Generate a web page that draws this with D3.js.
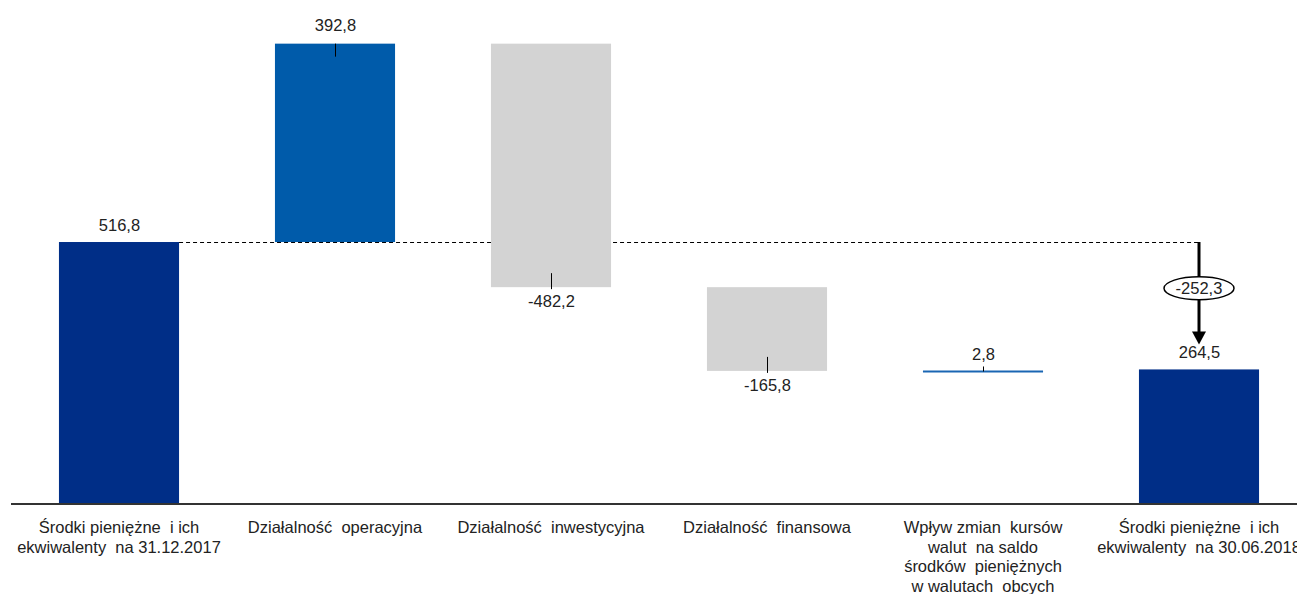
<!DOCTYPE html>
<html><head><meta charset="utf-8">
<script src="https://cdn.jsdelivr.net/npm/d3@7"></script>
<style>body{margin:0;background:#fff}svg{display:block}text{font-family:"Liberation Sans",Arial,sans-serif;fill:#222}</style>
</head><body>
<svg id="c" width="1297" height="594"></svg>
<script>
const categories = [
  ["Środki pieniężne  i ich", "ekwiwalenty  na 31.12.2017"],
  ["Działalność  operacyjna"],
  ["Działalność  inwestycyjna"],
  ["Działalność  finansowa"],
  ["Wpływ zmian  kursów", "walut  na saldo", "środków  pieniężnych", "w walutach  obcych"],
  ["Środki pieniężne  i ich", "ekwiwalenty  na 30.06.2018"]
];
const kinds = ["total", "delta", "delta", "delta", "delta", "total"];
const values = [516.8, 392.8, -482.2, -165.8, 2.8, 264.5];
const labels = ["516,8", "392,8", "-482,2", "-165,8", "2,8", "264,5"];
const diffLabel = "-252,3";

const FS = 16.5;
const svg = d3.select("#c");
const x = d3.scaleBand().domain(d3.range(values.length)).range([11, 1307]).paddingInner(0.444).paddingOuter(0.222);
const y = d3.scaleLinear().domain([0, 1000]).range([503, -2]);

let run = 0;
const segs = values.map((v, i) => {
  let a, b;
  if (kinds[i] === "total") { a = 0; b = v; run = v; }
  else { a = run; b = run + v; run = b; }
  return {i, v, a, b, lo: Math.min(a, b), hi: Math.max(a, b)};
});
const colors = ["#002E87", "#005BAA", "#D3D3D3", "#D3D3D3", "#1A66B3", "#002E87"];

// dashed reference line
const yd = Math.round(y(values[0])) + 0.5;
svg.append("line").attr("x1", x(0) + x.bandwidth()).attr("x2", x(5) + x.bandwidth() / 2)
  .attr("y1", yd).attr("y2", yd)
  .attr("stroke", "#000").attr("stroke-width", 1).attr("stroke-dasharray", "4,3");

segs.forEach(s => {
  const x0 = x(s.i), w = x.bandwidth(), cx = Math.round(x0 + w / 2) + 0.5;
  if (s.i === 4) {
    svg.append("line").attr("x1", x0).attr("x2", x0 + w).attr("y1", y(s.b) + 2).attr("y2", y(s.b) + 2)
      .attr("stroke", colors[s.i]).attr("stroke-width", 2);
    svg.append("line").attr("x1", cx).attr("x2", cx).attr("y1", y(s.b) - 3).attr("y2", y(s.b) + 2).attr("stroke", "#000");
    svg.append("text").attr("x", cx).attr("y", y(s.b) - 9).attr("text-anchor", "middle").attr("font-size", FS).text(labels[s.i]);
    return;
  }
  svg.append("rect").attr("x", x0).attr("width", w).attr("y", y(s.hi)).attr("height", y(s.lo) - y(s.hi)).attr("fill", colors[s.i]);
  if (kinds[s.i] === "total") {
    svg.append("text").attr("x", cx).attr("y", y(s.hi) - 11).attr("text-anchor", "middle").attr("font-size", FS).text(labels[s.i]);
  } else if (s.v > 0) {
    svg.append("line").attr("x1", cx).attr("x2", cx).attr("y1", y(s.hi)).attr("y2", y(s.hi) + 13).attr("stroke", "#000");
    svg.append("text").attr("x", cx).attr("y", y(s.hi) - 13).attr("text-anchor", "middle").attr("font-size", FS).text(labels[s.i]);
  } else {
    svg.append("line").attr("x1", cx).attr("x2", cx).attr("y1", y(s.lo) - 14).attr("y2", y(s.lo) + 2).attr("stroke", "#000");
    svg.append("text").attr("x", cx).attr("y", y(s.lo) + 20).attr("text-anchor", "middle").attr("font-size", FS).text(labels[s.i]);
  }
});

// arrow for difference
const ax = Math.round(x(5) + x.bandwidth() / 2);
const yTop = y(values[0]), yTip = y(values[5]) - 25;
svg.append("line").attr("x1", ax).attr("x2", ax).attr("y1", yTop).attr("y2", yTip - 10).attr("stroke", "#000").attr("stroke-width", 3);
svg.append("path").attr("d", `M${ax - 7},${yTip - 13} L${ax + 7},${yTip - 13} L${ax},${yTip} Z`).attr("fill", "#000");
const ey = (yTop + yTip) / 2 - 5;
svg.append("ellipse").attr("cx", ax).attr("cy", ey).attr("rx", 35).attr("ry", 11.5).attr("fill", "#fff").attr("stroke", "#000").attr("stroke-width", 1.5);
svg.append("text").attr("x", ax).attr("y", ey + 6).attr("text-anchor", "middle").attr("font-size", FS).text(diffLabel);

// axis
svg.append("line").attr("x1", 11).attr("x2", 1297).attr("y1", y(0) + 1).attr("y2", y(0) + 1).attr("stroke", "#333").attr("stroke-width", 2);

// category labels
categories.forEach((lines, i) => {
  const t = svg.append("text").attr("text-anchor", "middle").attr("font-size", FS).style("white-space", "pre");
  lines.forEach((l, k) => t.append("tspan").attr("x", x(i) + x.bandwidth() / 2).attr("y", 533 + k * 19.7).text(l));
});
</script>
</body></html>
